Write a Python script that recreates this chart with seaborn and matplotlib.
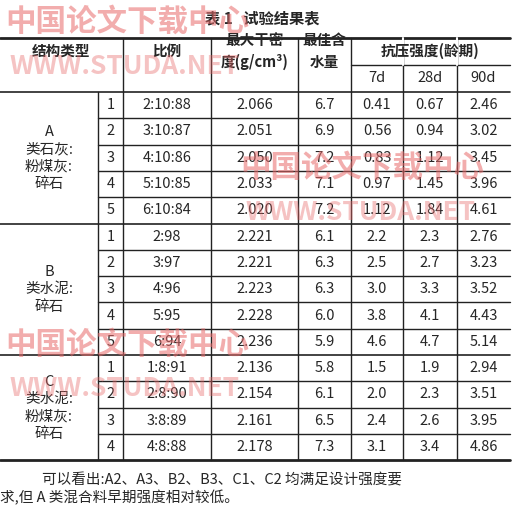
import matplotlib
matplotlib.use("Agg")
import matplotlib.pyplot as plt
import seaborn as sns

sns.set_theme(style="white")
plt.rcParams['font.family'] = ['Noto Sans CJK SC', 'DejaVu Sans']

# table data
groups = ["A\n类石灰:\n粉煤灰:\n碎石", "B\n类水泥:\n碎石", "C\n类水泥:\n粉煤灰:\n碎石"]
ratios = [["2:10:88", "3:10:87", "4:10:86", "5:10:85", "6:10:84"],
          ["2:98", "3:97", "4:96", "5:95", "6:94"],
          ["1:8:91", "2:8:90", "3:8:89", "4:8:88"]]
density = [["2.066", "2.051", "2.050", "2.033", "2.020"],
           ["2.221", "2.221", "2.223", "2.228", "2.236"],
           ["2.136", "2.154", "2.161", "2.178"]]
water = [["6.7", "6.9", "7.2", "7.1", "7.2"],
         ["6.1", "6.3", "6.3", "6.0", "5.9"],
         ["5.8", "6.1", "6.5", "7.3"]]
s7 = [["0.41", "0.56", "0.83", "0.97", "1.12"],
      ["2.2", "2.5", "3.0", "3.8", "4.6"],
      ["1.5", "2.0", "2.4", "3.1"]]
s28 = [["0.67", "0.94", "1.12", "1.45", "1.84"],
       ["2.3", "2.7", "3.3", "4.1", "4.7"],
       ["1.9", "2.3", "2.6", "3.4"]]
s90 = [["2.46", "3.02", "3.45", "3.96", "4.61"],
       ["2.76", "3.23", "3.52", "4.43", "5.14"],
       ["2.94", "3.51", "3.95", "4.86"]]

fig = plt.figure(figsize=(5.24, 5.16), dpi=100)
ax = fig.add_axes([0, 0, 1, 1])
ax.set_xlim(0, 524)
ax.set_ylim(516, 0)
ax.axis("off")

cols = [0, 98, 123, 211, 298, 351, 403, 457, 510]
top, mid, hbot = 38, 65, 92
rh = 26.3
fs = 10.5
lc = "#222222"

def cx(i):
    return (cols[i] + cols[i + 1]) / 2

ax.text(262, 18, "表 1   试验结果表", ha="center", va="center", fontsize=11, fontweight="bold")

# header
ax.plot([0, 510], [top, top], color=lc, lw=2)
ax.plot([351, 510], [mid, mid], color=lc, lw=1)
ax.plot([0, 510], [hbot, hbot], color=lc, lw=1.2)
ax.text((cols[0] + cols[2]) / 2, 51, "结构类型", ha="center", va="center", fontsize=fs, fontweight="bold")
ax.text(cx(2), 51, "比例", ha="center", va="center", fontsize=fs, fontweight="bold")
ax.text(cx(3), 51, "最大干密\n度(g/cm³)", ha="center", va="center", fontsize=fs,
        fontweight="bold", linespacing=1.5)
ax.text(cx(4), 51, "最佳含\n水量", ha="center", va="center", fontsize=fs,
        fontweight="bold", linespacing=1.5)
ax.text((cols[5] + cols[8]) / 2, 51, "抗压强度(龄期)", ha="center", va="center",
        fontsize=fs, fontweight="bold")
for i, lab in zip([5, 6, 7], ["7d", "28d", "90d"]):
    ax.text(cx(i), 78, lab, ha="center", va="center", fontsize=fs)
for x in cols[2:8]:
    ax.plot([x, x], [top, hbot], color=lc, lw=1)
ax.plot([403, 403], [top, mid], color="white", lw=1.5)
ax.plot([457, 457], [top, mid], color="white", lw=1.5)

# body
y = hbot
for g, name in enumerate(groups):
    n = len(ratios[g])
    y0 = y
    for r in range(n):
        yc = y + rh / 2
        vals = [str(r + 1), ratios[g][r], density[g][r], water[g][r],
                s7[g][r], s28[g][r], s90[g][r]]
        for k, v in enumerate(vals):
            ax.text(cx(k + 1), yc, v, ha="center", va="center", fontsize=fs)
        y += rh
        if r < n - 1:
            ax.plot([98, 510], [y, y], color=lc, lw=1)
    ax.text(cx(0), (y0 + y) / 2, name, ha="center", va="center", fontsize=fs,
            linespacing=1.3)
    for x in cols[1:8]:
        ax.plot([x, x], [y0, y], color=lc, lw=1)
    ax.plot([0, 510], [y, y], color=lc, lw=1.2 if g < 2 else 2)

ax.text(42, 480, "可以看出:A2、A3、B2、B3、C1、C2 均满足设计强度要", ha="left",
        va="center", fontsize=fs)
ax.text(0, 498, "求,但 A 类混合料早期强度相对较低。", ha="left", va="center", fontsize=fs)

# watermarks
wm = "#e86a6a"
for (x, y1) in [(5, 22), (240, 168), (5, 345)]:
    ax.text(x, y1, "中国论文下载中心", ha="left", va="center", fontsize=22,
            fontweight="bold", color=wm, alpha=0.55)
    ax.text(x + 5, y1 + 44, "WWW.STUDA.NET", ha="left", va="center", fontsize=19,
            fontweight="bold", color=wm, alpha=0.4)

fig.savefig("out.png", dpi=100)
